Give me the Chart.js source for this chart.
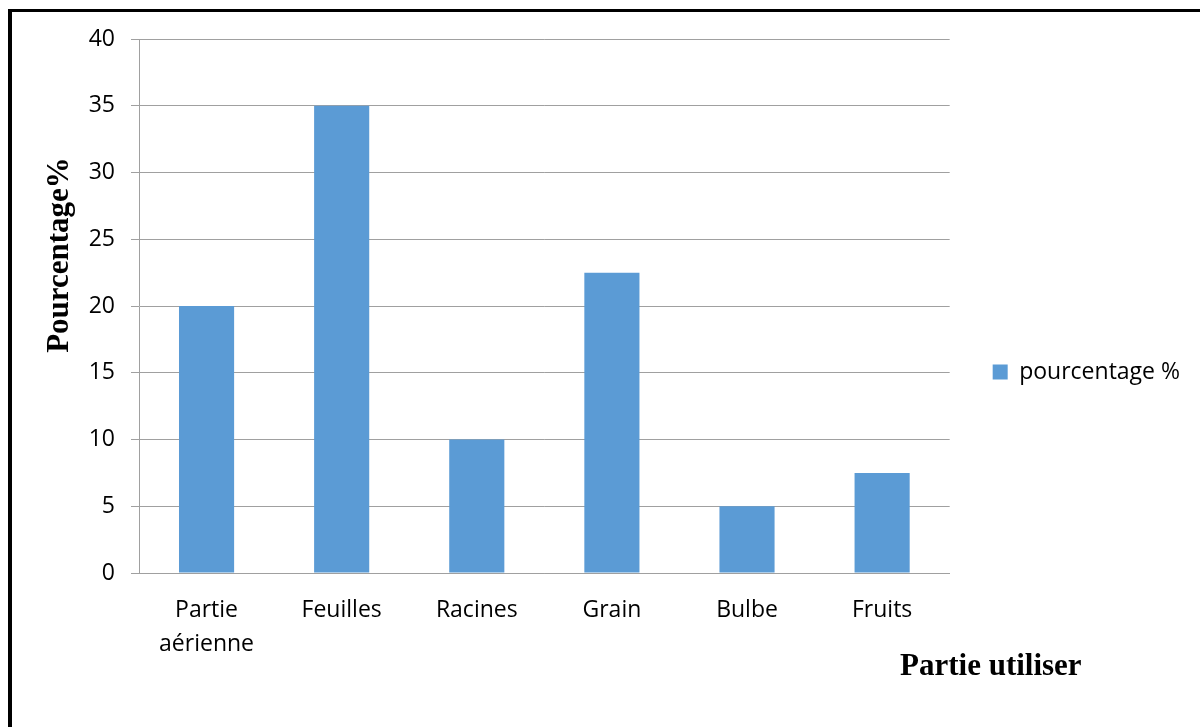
<!DOCTYPE html>
<html><head><meta charset="utf-8">
<script src="https://cdn.jsdelivr.net/npm/chart.js@4"></script>
<style>
html,body{margin:0;padding:0;background:#fff;}
#wrap{position:relative;width:1200px;height:727px;overflow:hidden;background:#fff;}
#frame{position:absolute;left:8px;top:9px;width:1300px;height:800px;border-left:4px solid #000;border-top:3px solid #000;box-sizing:border-box;pointer-events:none;}
canvas{position:absolute;left:0;top:0;}
</style></head><body>
<div id="wrap"><canvas id="c" width="1200" height="727"></canvas><div id="frame"></div></div>
<script>
const categories = [['Partie', 'aérienne'], 'Feuilles', 'Racines', 'Grain', 'Bulbe', 'Fruits'];
const values = [20, 35, 10, 22.5, 5, 7.5];
const seriesName = 'pourcentage %';
const yMin = 0, yMax = 40, yStep = 5;
const xTitle = 'Partie utiliser';
const yTitle = 'Pourcentage%';

const tickFont = {family: '"Open Sans"', size: 23};

const titlesPlugin = {
  id: 'titles',
  afterDraw(chart) {
    const ctx = chart.ctx;
    ctx.save();
    ctx.fillStyle = '#000';
    ctx.font = 'bold 31px "Liberation Serif"';
    ctx.textAlign = 'left';
    ctx.textBaseline = 'alphabetic';
    ctx.fillText(xTitle, 900, 675);
    ctx.translate(68, 255);
    ctx.rotate(-Math.PI / 2);
    ctx.textAlign = 'center';
    ctx.fillText(yTitle, 0, 0);
    ctx.restore();
  }
};

new Chart(document.getElementById('c'), {
  type: 'bar',
  data: {
    labels: categories,
    datasets: [{
      label: seriesName,
      data: values,
      backgroundColor: '#5b9bd5',
      borderWidth: 0,
      barPercentage: 0.408,
      categoryPercentage: 1
    }]
  },
  options: {
    responsive: false,
    animation: false,
    layout: {padding: {top: 39, left: 0, right: 10, bottom: 22}},
    plugins: {
      tooltip: {enabled: false},
      legend: {
        position: 'right',
        labels: {boxWidth: 15, boxHeight: 15, padding: 43, font: tickFont, color: '#000'}
      }
    },
    scales: {
      x: {
        grid: {display: false},
        border: {display: true, color: '#a0a0a0', width: 1},
        ticks: {color: '#000', font: {family: '"Open Sans"', size: 23, lineHeight: 1.5}, padding: 12, maxRotation: 0, autoSkip: false},
        afterFit(s) { s.height = 132; }
      },
      y: {
        min: yMin, max: yMax,
        ticks: {stepSize: yStep, color: '#000', font: tickFont, padding: 16},
        grid: {color: '#a0a0a0', lineWidth: 1, tickLength: 8},
        border: {display: true, color: '#a0a0a0', width: 1},
        afterFit(s) { s.width = 139; }
      }
    }
  },
  plugins: [titlesPlugin]
});
</script>
</body></html>
